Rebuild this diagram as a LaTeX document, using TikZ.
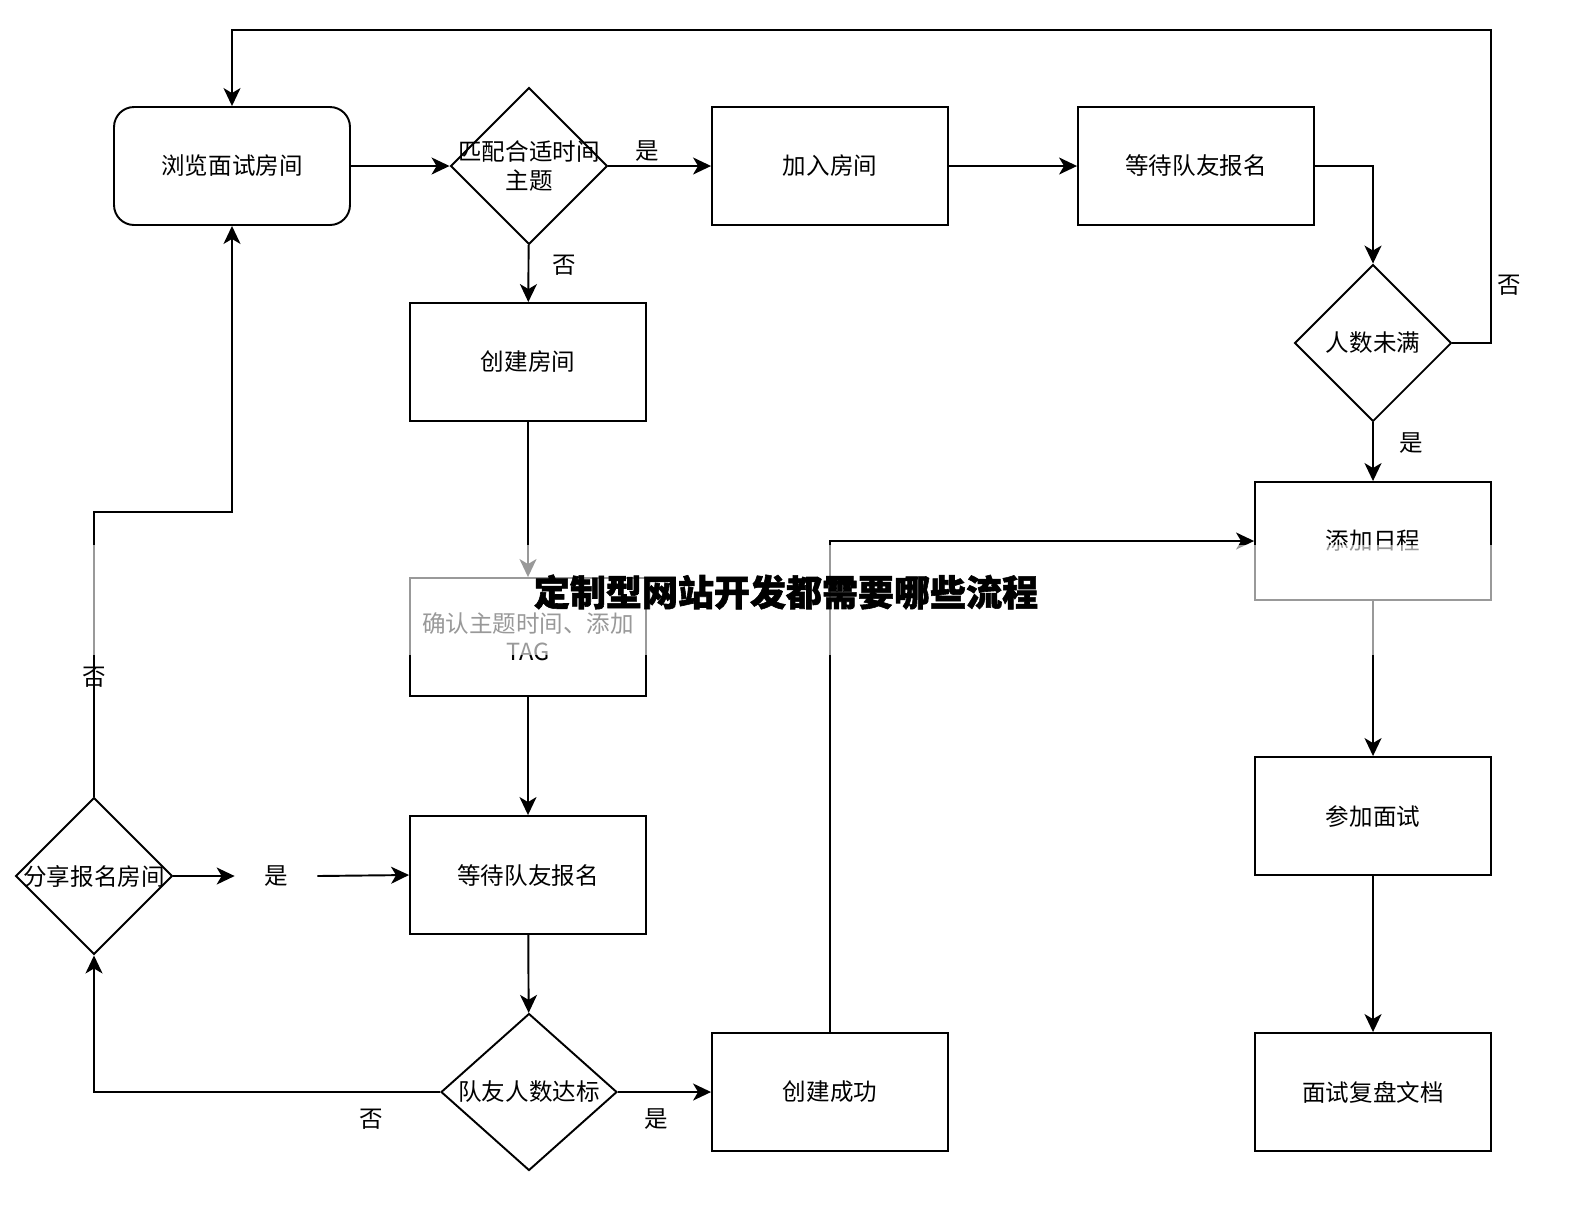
\documentclass[tikz,border=0pt]{standalone}
\usepackage{fontspec}
\setmainfont{Noto Sans CJK SC}
\newfontfamily\titlefont[FakeBold=1.6]{Noto Sans CJK SC}
\usetikzlibrary{shapes.geometric}
\usetikzlibrary{arrows.meta}
\usetikzlibrary{positioning}

\begin{document}
\begin{tikzpicture}[x=0.02cm, y=-0.02cm,
        font=\fontsize{13.4}{16}\selectfont,
        box/.style={draw, line width=1.1pt, rectangle, minimum width=4.72cm, minimum height=2.36cm, inner sep=0pt, align=center},
        rbox/.style={box, rounded corners=0.4cm},
        decision/.style={draw, line width=1.1pt, diamond, aspect=1, inner sep=0pt, minimum width=3.14cm, minimum height=3.14cm},
        flow/.style={draw, line width=1.1pt, -{Stealth[length=0.36cm, width=0.34cm, inset=0.1cm]}},
        wire/.style={draw, line width=1.1pt}]
        \useasboundingbox (0,0) rectangle (1594,1208);
        % top row
        \node [rbox] (browse) at (232,166) {浏览面试房间};
        \node [decision, label={[align=center]center:匹配合适时间\\主题}] (match) at (529,166) {};
        \node [box] (join) at (830,166) {加入房间};
        \node [box] (wait1) at (1196,166) {等待队友报名};
        \node [decision, label=center:人数未满] (notfull) at (1373,343) {};
        % middle column
        \node [box] (create) at (528,362) {创建房间};
        \node [box] (confirm) at (528,637) {确认主题时间、添加\\TAG};
        \node [box] (wait2) at (528,875) {等待队友报名};
        \node [decision, minimum width=3.52cm, label=center:队友人数达标] (reach) at (529,1092) {};
        \node [box] (done) at (830,1092) {创建成功};
        % left
        \node [decision, label=center:分享报名房间] (share) at (94,876) {};
        \node [minimum width=1.64cm, inner sep=0pt] (shareyes) at (276,876) {是};
        % right column
        \node [box] (sched) at (1373,541) {添加日程};
        \node [box] (attend) at (1373,816) {参加面试};
        \node [box] (review) at (1373,1092) {面试复盘文档};

        \draw[flow] (browse) -- (match);
        \draw[flow] (match) -- node[pos=0.38, above, inner sep=2pt] {是} (join);
        \draw[flow] (match) -- node[pos=0.36, right, xshift=0.35cm] {否} (create);
        \draw[flow] (join) -- (wait1);
        \draw[flow] (wait1.east) -| (notfull.north);
        \draw[flow] (notfull.east) -| node[pos=0.593, right] {否} (1491,30) -| (browse.north);
        \draw[flow] (notfull) -- node[pos=0.35, right, xshift=0.4cm] {是} (sched);
        \draw[flow] (create) -- (confirm);
        \draw[flow] (confirm) -- (wait2);
        \draw[flow] (wait2) -- (reach);
        \draw[flow] (reach) -- node[pos=0.41, below=0.2cm] {是} (done);
        \draw[flow] (reach.west) -| node[pos=0.1, below=0.2cm] {否} (share.south);
        \draw[flow] (share.east) -- (shareyes.west);
        \draw[flow] (shareyes.east) -- (wait2.west);
        \draw[flow] (share.north) -- node[pos=0.418] {否} (94,512) -| (browse.south);
        \draw[flow] (done.north) |- (sched.west);
        \draw[flow] (sched) -- (attend);
        \draw[flow] (attend) -- (review);

        % faded band and title
        \fill[white, opacity=0.6] (0,545) rectangle (1594,655);
        \node [font=\fontsize{20.5}{24}\selectfont\titlefont\bfseries] (title) at (786,592) {定制型网站开发都需要哪些流程};
    \end{tikzpicture}
\end{document}
